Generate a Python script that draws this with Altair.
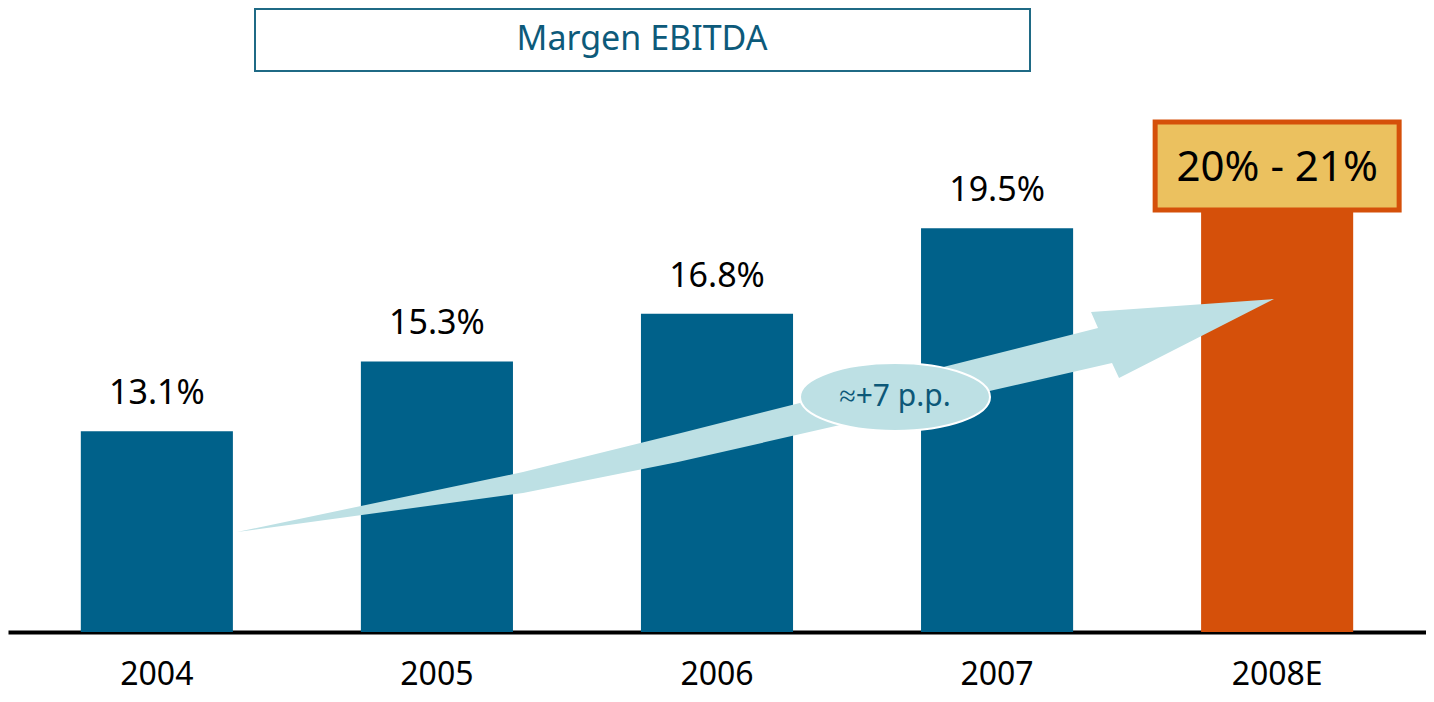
import altair as alt
import pandas as pd

# ---- data ----
years = ["2004", "2005", "2006", "2007", "2008E"]
margins = [13.1, 15.3, 16.8, 19.5, 20.5]          # 2008E: midpoint of 20%-21% guidance
labels = ["13.1%", "15.3%", "16.8%", "19.5%", ""]
kinds = ["actual", "actual", "actual", "actual", "estimate"]
range_label = ["20% - 21%"]
note_label = ["≈+7 p.p."]
title_label = ["Margen EBITDA"]

df = pd.DataFrame({"year": years, "margin": margins, "label": labels, "kind": kinds})
est = pd.DataFrame({"year": ["2008E"], "text": range_label})
note = pd.DataFrame({"text": note_label})
ttl = pd.DataFrame({"text": title_label})

FONT = "Noto Sans"
BLUE = "#00618a"
ORANGE = "#d5500a"
LIGHT = "#bde0e4"
Y_MIN, Y_MAX = 6.77, 26.44

xenc = alt.X("year:N", sort=years,
             scale=alt.Scale(paddingInner=0.457, paddingOuter=0.26),
             axis=alt.Axis(title=None, labelAngle=0, ticks=False, domainColor="black",
                           domainWidth=4, labelFont=FONT, labelFontSize=32,
                           labelColor="black", labelBaseline="middle", labelPadding=42))
yscale = alt.Scale(domain=[Y_MIN, Y_MAX], nice=False, zero=False)

bars = alt.Chart(df).mark_bar().encode(
    x=xenc,
    y=alt.Y("margin:Q", scale=yscale, axis=None),
    y2=alt.datum(Y_MIN),
    color=alt.Color("kind:N", scale=alt.Scale(domain=["actual", "estimate"],
                                             range=[BLUE, ORANGE]), legend=None),
)

vals = alt.Chart(df).mark_text(font=FONT, fontSize=34, color="black",
                               baseline="middle", dy=-37).encode(
    x=alt.X("year:N", sort=years),
    y=alt.Y("margin:Q", scale=yscale),
    text="label:N",
)

arrow_path = ("M-1,0.2247L-0.4484,0.109L-0.1437,0.0338L0.6606,-0.1688L0.6471,-0.1996"
              "L1,-0.2247L0.7011,-0.0723L0.6876,-0.1013L-0.1495,0.0897L-0.4484,0.1495Z")
arrow = alt.Chart(note).mark_point(shape=arrow_path, filled=True, color=LIGHT,
                                   opacity=1, size=1075369).encode(
    x=alt.value(747.5), y=alt.value(407.5))

ellipse_path = ("M-1,0C-1,-0.1977 -0.5523,-0.358 0,-0.358C0.5523,-0.358 1,-0.1977 1,0"
                "C1,0.1977 0.5523,0.358 0,0.358C-0.5523,0.358 -1,0.1977 -1,0Z")
ell = alt.Chart(note).mark_point(shape=ellipse_path, filled=True, fill=LIGHT,
                                 stroke="white", strokeWidth=2, opacity=1,
                                 size=36100).encode(
    x=alt.value(887), y=alt.value(389))
note_txt = alt.Chart(note).mark_text(font=FONT, fontSize=30, color="#0d5878",
                                     baseline="middle").encode(
    x=alt.value(887), y=alt.value(389), text="text:N")

box = alt.Chart(est).mark_bar(width=244, fill="#ebc15f", stroke=ORANGE,
                              strokeWidth=5).encode(
    x=alt.X("year:N", sort=years), y=alt.value(114), y2=alt.value(202))
box_txt = alt.Chart(est).mark_text(font=FONT, fontSize=42, color="black",
                                   baseline="middle").encode(
    x=alt.X("year:N", sort=years), y=alt.value(160), text="text:N")

tbox = alt.Chart(ttl).mark_rect(fill="white", stroke="#1f6a85", strokeWidth=2).encode(
    x=alt.value(247), x2=alt.value(1022), y=alt.value(1), y2=alt.value(63))
ttxt = alt.Chart(ttl).mark_text(font=FONT, fontSize=34, color="#0d5a7a",
                                baseline="middle").encode(
    x=alt.value(634), y=alt.value(32), text="text:N")

chart = alt.layer(bars, vals, arrow, ell, note_txt, box, box_txt, tbox, ttxt).properties(
    width=1418, height=624,
    autosize=alt.AutoSizeParams(type="none"),
    padding={"left": 0, "top": 0, "right": 0, "bottom": 62},
).configure_view(stroke=None)

chart.save("out.html", embed_options={"renderer": "svg", "actions": False})
